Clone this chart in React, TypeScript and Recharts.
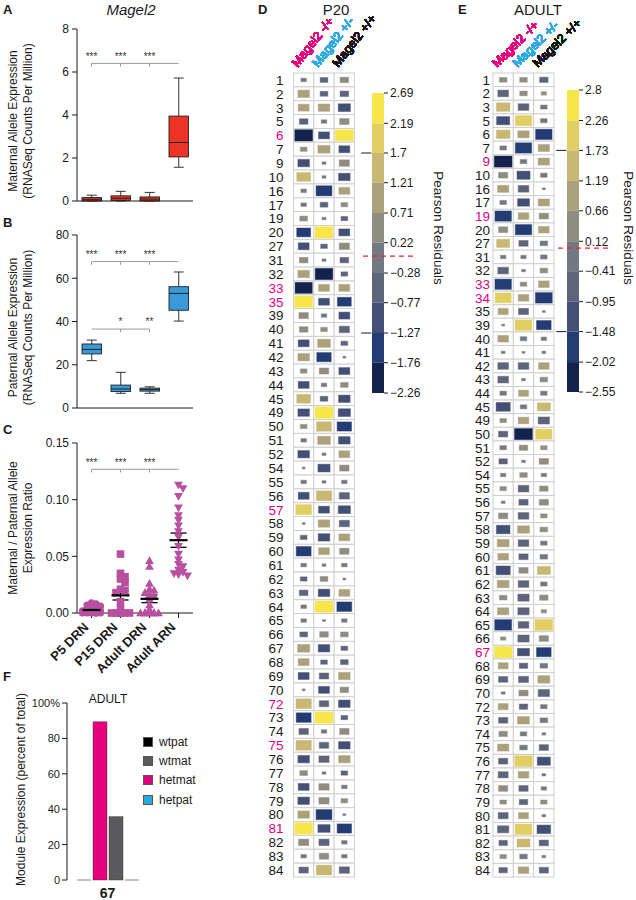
import {
  BarChart,
  Bar,
  ScatterChart,
  Scatter,
  ComposedChart,
  XAxis,
  YAxis,
  ReferenceLine,
  ReferenceDot,
  ReferenceArea,
  ErrorBar,
  Legend,
  Label,
} from "recharts";

const FONT = '"Liberation Sans", Arial, Helvetica, sans-serif';
const INK = "#1a1a1a";
const BRACKET = "#9b9b9b";
const POINT = "#b84f9f";

const groups = ["P5 DRN", "P15 DRN", "Adult DRN", "Adult ARN"];

// A - maternal allele expression, box stats per group
const matMin = [0, 0, 0, 1.57];
const matQ1 = [0, 0.03, 0, 2.05];
const matMedian = [0.08, 0.13, 0.09, 2.72];
const matQ3 = [0.16, 0.24, 0.19, 3.95];
const matMax = [0.27, 0.45, 0.4, 5.72];

// B - paternal allele expression
const patMin = [21.9, 6.8, 6.8, 40.2];
const patQ1 = [25, 7.6, 7.8, 45.2];
const patMedian = [27.1, 8.8, 8.5, 53];
const patQ3 = [29.6, 10.6, 9.2, 56.1];
const patMax = [31.4, 16.5, 9.8, 62.9];

// C - maternal / paternal ratio per animal
const ratioP5 = [0.009, 0.008, 0.007, 0.006, 0.005, 0.004, 0.003, 0.002, 0.002, 0.001, 0.001, 0, 0, 0, 0, 0, 0, 0];
const ratioP15 = [0.052, 0.035, 0.032, 0.03, 0.027, 0.021, 0.02, 0.018, 0.01, 0.004, 0, 0, 0, 0, 0, 0];
const ratioAdultDRN = [0.046, 0.041, 0.026, 0.021, 0.02, 0.018, 0.016, 0.015, 0.012, 0.007, 0.003, 0, 0, 0, 0, 0, 0, 0];
const ratioAdultARN = [0.113, 0.11, 0.103, 0.093, 0.086, 0.082, 0.077, 0.072, 0.067, 0.059, 0.052, 0.047, 0.043, 0.041, 0.038, 0.036, 0.035, 0.034, 0.033];

// F - module 67 expression
const moduleName = "67";
const moduleSeries = ["hetpat", "hetmat", "wtmat", "wtpat"];
const moduleValues = [0, 89.4, 35.8, 0];
const moduleColors = ["#27aae1", "#e5007e", "#5a5a5c", "#000000"];
const legendOrder = ["wtpat", "wtmat", "hetmat", "hetpat"];

// D / E - Pearson residual mosaics
const genotypes = ["Magel2 -/+", "Magel2 +/-", "Magel2 +/+"];
const genotypeColors = ["#e6007e", "#29abe2", "#111111"];
const residualColors = ["#f7e64b", "#e2cf63", "#c8b874", "#aba27d", "#8f8c80", "#747880", "#5e647a", "#434f74", "#243c74", "#14224e"];

const p20Breaks = [2.69, 2.19, 1.7, 1.21, 0.71, 0.22, -0.28, -0.77, -1.27, -1.76, -2.26];
const p20Modules = ["1", "2", "3", "5", "6", "7", "9", "10", "16", "17", "19", "20", "27", "31", "32", "33", "35", "39", "40", "41", "42", "43", "44", "45", "49", "50", "51", "52", "54", "55", "56", "57", "58", "59", "60", "61", "62", "63", "64", "65", "66", "67", "68", "69", "70", "72", "73", "74", "75", "76", "77", "78", "79", "80", "81", "82", "83", "84"];
const p20Highlight = ["6", "33", "35", "57", "72", "75", "81"];
const p20MatKO = [
  -0.2, 0.9, 0.8, -0.5, -2.26, 0.3, -0.9, 1.3, 0.2, -0.2,
  0.4, -1.3, -0.8, 0.5, 0.9, -2.0, 2.4, 0.6, 0.5, -0.8,
  0.9, 0.3, -0.8, 1.3, -0.9, 0.3, 0.2, -0.9, -0.05, -0.2,
  -0.8, 1.7, -0.05, -0.3, -1.5, -0.2, -0.3, -0.5, -0.2, -0.2,
  -0.4, 1.0, 0.8, -0.8, -0.05, 1.6, -1.5, -0.6, 1.6, -0.9,
  0.4, -0.8, -0.9, 0.9, 2.5, 0.7, -0.2, -0.6,
];
const p20PatKO = [
  -0.4, -0.4, 0.9, -0.2, -0.8, 1.0, -0.1, -0.1, -1.7, -0.4,
  -0.1, 2.4, -0.3, -0.1, -2.1, 0.8, -0.8, -0.2, 0.3, 1.1,
  -1.4, 0.6, -0.2, -0.4, 2.3, 1.5, 1.1, -0.1, -1.0, -0.1,
  1.6, -0.8, 0.9, -0.9, 0.8, -0.1, 0.4, -0.9, 2.5, -0.05,
  0.5, -0.9, -0.3, -0.6, -0.8, -0.6, 2.5, -0.2, -0.6, -0.7,
  -0.1, 0.7, 0.7, -1.7, -1.0, -0.7, 0.6, 1.6,
];
const p20WT = [
  0.5, -0.5, -1.0, 0.6, 2.69, -0.8, 0.7, -0.9, 0.8, 0.3,
  -0.3, -0.8, 0.7, -0.5, -0.3, 0.8, -1.3, -0.8, -0.7, -0.3,
  -0.05, -0.8, 0.4, -0.9, -1.0, -1.4, -0.9, 0.8, 0.6, 0.2,
  -0.7, -1.0, -0.7, 0.8, 0.6, 0.2, -0.05, 0.8, -1.5, 0.2,
  0.4, -0.3, -0.4, 0.9, 0.5, -0.9, -0.3, 0.6, -0.9, 0.9,
  -0.3, 0.2, 0.3, -0.05, -1.4, -0.2, -0.2, -0.7,
];

const adultBreaks = [2.8, 2.26, 1.73, 1.19, 0.66, 0.12, -0.41, -0.95, -1.48, -2.02, -2.55];
const adultModules = ["1", "2", "3", "5", "6", "7", "9", "10", "16", "17", "19", "20", "27", "31", "32", "33", "34", "35", "39", "40", "41", "42", "43", "44", "45", "49", "50", "51", "52", "54", "55", "56", "57", "58", "59", "60", "61", "62", "63", "64", "65", "66", "67", "68", "69", "70", "72", "73", "74", "75", "76", "77", "78", "79", "80", "81", "82", "83", "84"];
const adultHighlight = ["9", "19", "33", "34", "67"];
const adultMatKO = [
  0.4, -0.8, 1.3, -1.2, 1.3, -0.3, -2.3, 0.6, 0.9, -0.3,
  -1.9, 0.6, 1.2, -0.2, -0.8, -1.9, 1.8, 0.7, -0.05, 0.8,
  -0.1, -0.8, -0.8, -0.3, -1.4, 0.3, -0.6, -0.3, -0.5, -0.2,
  0.3, -0.1, 0.6, -1.3, 1.0, 0.8, -1.4, 1.0, 0.4, 0.9,
  -2.0, 0.2, 2.6, 0.7, -0.6, -0.1, 0.7, -0.6, 0.5, 0.9,
  -0.6, -0.7, 0.6, 0.3, -0.7, -0.9, -0.5, 0.3, -0.5,
];
const adultPatKO = [
  0.4, 0.4, -0.8, 1.9, 0.9, -1.9, -0.3, -1.2, -0.8, -1.0,
  0.8, -1.9, -0.6, -0.2, -0.1, 0.3, 0.8, -0.7, 2.0, -0.3,
  -0.05, -0.8, -0.1, 0.7, -0.3, 0.8, -2.55, 0.5, -0.1, 0.4,
  -0.8, -0.6, -0.8, 1.0, -0.8, -0.6, 0.6, -0.8, -0.9, -0.9,
  -0.8, -0.9, -1.0, -0.5, -0.7, 0.6, -0.5, 1.0, -0.3, -0.4,
  2.2, 0.8, -0.6, -0.5, 0.7, 2.0, 1.2, -0.4, 0.8,
];
const adultWT = [
  -0.5, 0.2, -0.3, -0.3, -1.9, 0.9, 0.9, -0.3, -0.05, 0.9,
  0.6, 0.8, -0.4, -0.3, 0.4, 0.8, -2.0, -0.05, -1.5, -0.2,
  -0.1, 0.8, 0.4, -0.3, 1.2, -0.9, 1.9, 0.3, 0.6, -0.2,
  0.5, 0.6, 0.3, 0.4, -0.3, -0.4, 1.2, -0.3, 0.5, 0.2,
  2.2, 0.6, -1.5, -0.4, 1.0, -0.9, -0.3, -0.4, -0.1, -0.6,
  -1.2, -0.1, -0.2, 0.3, 0.1, -1.3, -0.6, 0.1, -0.6,
];

// ---------- helpers ----------

const fmtResidual = (v: number) => (v < 0 ? "\u2212" + Math.abs(v) : String(v));

function bandColor(v: number, breaks: number[]) {
  for (let i = 0; i < residualColors.length; i++) {
    if (v >= breaks[i + 1]) return residualColors[i];
  }
  return residualColors[residualColors.length - 1];
}

function boxRows(min: number[], q1: number[], med: number[], q3: number[], max: number[]) {
  return groups.map((g, i) => ({ g, min: min[i], q1: q1[i], med: med[i], q3: q3[i], max: max[i] }));
}

// simple beeswarm: horizontal pixel offsets so the markers don't pile up
function swarm(values: number[], pxPerUnit: number, step: number, sep: number) {
  const order = values.map((_, i) => i).sort((a, b) => values[b] - values[a]);
  const placed: { x: number; y: number }[] = [];
  const dx = values.map(() => 0);
  const slots = [0, 1, -1, 2, -2];
  for (const i of order) {
    const y = values[i] * pxPerUnit;
    let best = 0;
    let bestHits = Infinity;
    for (const s of slots) {
      const x = s * step;
      const hits = placed.filter((p) => Math.abs(p.x - x) < step * 0.9 && Math.abs(p.y - y) < sep).length;
      if (hits < bestHits) {
        best = x;
        bestHits = hits;
      }
      if (hits === 0) break;
    }
    dx[i] = best;
    placed.push({ x: best, y });
  }
  return dx;
}

const axisTitle = (lines: string[], xs: number[], dy: number) => (props: any) => {
  const vb = props.viewBox;
  const cy = vb.y + vb.height / 2 + dy;
  return (
    <g>
      {lines.map((t, i) => (
        <text
          key={i}
          x={xs[i]}
          y={cy}
          transform={`rotate(-90 ${xs[i]} ${cy})`}
          textAnchor="middle"
          dominantBaseline="central"
          fontSize={12}
          fill={INK}
        >
          {t}
        </text>
      ))}
    </g>
  );
};

function bracket(id: string, y: number, drop: number, from: any, to: any, tickAt: any[], stars: [any, string][], starY: number) {
  const els: any[] = [
    <ReferenceLine key={id + "h"} segment={[{ x: from, y }, { x: to, y }]} stroke={BRACKET} strokeWidth={1} />,
  ];
  tickAt.forEach((x, i) =>
    els.push(<ReferenceLine key={id + "t" + i} segment={[{ x, y }, { x, y: y - drop }]} stroke={BRACKET} strokeWidth={1} />)
  );
  stars.forEach(([x, t], i) =>
    els.push(
      <ReferenceDot
        key={id + "s" + i}
        x={x}
        y={starY}
        r={0}
        fill="none"
        stroke="none"
        label={{ value: t, position: "center", fontSize: 10, fill: "#333" }}
      />
    )
  );
  return els;
}

const BoxShape = (props: any) => {
  const { x, y, width, height, payload, fill } = props;
  const top = Math.min(y, y + height);
  const bottom = Math.max(y, y + height);
  const { min, q1, med, q3, max } = payload;
  const py = (v: number) => bottom - ((bottom - top) * (v - min)) / (max - min || 1);
  const cx = x + width / 2;
  const cap = 5;
  return (
    <g>
      <line x1={cx} x2={cx} y1={py(max)} y2={py(q3)} stroke="#333" />
      <line x1={cx} x2={cx} y1={py(q1)} y2={py(min)} stroke="#333" />
      <line x1={cx - cap} x2={cx + cap} y1={py(max)} y2={py(max)} stroke="#333" />
      <line x1={cx - cap} x2={cx + cap} y1={py(min)} y2={py(min)} stroke="#333" />
      <rect x={x} y={py(q3)} width={width} height={Math.max(py(q1) - py(q3), 0.8)} fill={fill} stroke="#222" strokeWidth={0.9} />
      <line x1={x} x2={x + width} y1={py(med)} y2={py(med)} stroke="#222" strokeWidth={1} />
    </g>
  );
};

// ---------- panels A & B ----------

function BoxPanel(props: any) {
  const { top, height, marginTop, domain, ticks, rows, fill, title, children } = props;
  return (
    <div style={{ position: "absolute", left: 0, top }}>
      <BarChart width={200} height={height} data={rows} margin={{ top: marginTop, right: 7, left: 0, bottom: 4 }}>
        <XAxis dataKey="g" height={10} tick={false} tickSize={4} axisLine={{ stroke: INK }} tickLine={{ stroke: INK }} />
        <YAxis
          type="number"
          domain={domain}
          ticks={ticks}
          interval={0}
          width={77}
          tickSize={5}
          tickMargin={3}
          tick={{ fontSize: 12, fill: INK }}
          axisLine={{ stroke: INK }}
          tickLine={{ stroke: INK }}
        >
          <Label content={axisTitle(title, [13, 28], 6)} />
        </YAxis>
        {children}
        <Bar dataKey={(d: any) => [d.min, d.max]} fill={fill} barSize={19.5} shape={BoxShape} isAnimationActive={false} />
      </BarChart>
    </div>
  );
}

// ---------- panel C ----------

const makeMarker = (kind: string) => (props: any) => {
  const { cx, cy, payload } = props;
  const x = cx + (payload.dx || 0);
  if (kind === "circle") return <circle cx={x} cy={cy} r={3.6} fill={POINT} />;
  if (kind === "square") return <rect x={x - 3.8} y={cy - 3.8} width={7.6} height={7.6} fill={POINT} />;
  if (kind === "up") return <path d={`M${x},${cy - 4.6}L${x + 4.4},${cy + 3.2}L${x - 4.4},${cy + 3.2}Z`} fill={POINT} />;
  return <path d={`M${x},${cy + 4.6}L${x + 4.4},${cy - 3.2}L${x - 4.4},${cy - 3.2}Z`} fill={POINT} />;
};
const markerKinds = ["circle", "square", "up", "down"];
const markers = markerKinds.map(makeMarker);

const MeanBar = (props: any) => (
  <line x1={props.cx - 9} x2={props.cx + 9} y1={props.cy} y2={props.cy} stroke="#000" strokeWidth={2.2} />
);

const GroupTick = (props: any) => {
  const { x, y, payload } = props;
  const tx = x - 2;
  const ty = y + 8;
  return (
    <text x={tx} y={ty} transform={`rotate(-45 ${tx} ${ty})`} textAnchor="end" fontSize={13} fontWeight="bold" fill={INK}>
      {groups[payload.value - 1]}
    </text>
  );
};

function RatioPanel() {
  const sets = [ratioP5, ratioP15, ratioAdultDRN, ratioAdultARN];
  const pxPerUnit = 170 / 0.15;
  const pointSets = sets.map((vals, gi) => {
    const dx = swarm(vals, pxPerUnit, 4.5, 4);
    return vals.map((v, i) => ({ x: gi + 1, y: v, dx: dx[i] }));
  });
  const means = sets.map((vals, gi) => {
    const n = vals.length;
    const m = vals.reduce((a, b) => a + b, 0) / n;
    const sd = Math.sqrt(vals.reduce((a, b) => a + (b - m) * (b - m), 0) / (n - 1));
    return { x: gi + 1, y: m, sem: sd / Math.sqrt(n) };
  });
  return (
    <div style={{ position: "absolute", left: 0, top: 425 }}>
      <ScatterChart width={200} height={250} margin={{ top: 18, right: 7, left: 0, bottom: 12 }}>
        <XAxis
          type="number"
          dataKey="x"
          domain={[0.5, 4.5]}
          ticks={[1, 2, 3, 4]}
          interval={0}
          height={50}
          tickSize={5}
          tick={<GroupTick />}
          axisLine={{ stroke: INK }}
          tickLine={{ stroke: INK }}
        />
        <YAxis
          type="number"
          dataKey="y"
          domain={[0, 0.15]}
          ticks={[0, 0.05, 0.1, 0.15]}
          interval={0}
          tickFormatter={(v: number) => v.toFixed(2)}
          width={77}
          tickSize={5}
          tickMargin={3}
          tick={{ fontSize: 12, fill: INK }}
          axisLine={{ stroke: INK }}
          tickLine={{ stroke: INK }}
        >
          <Label content={axisTitle(["Maternal / Paternal Allele", "Expression Ratio"], [13, 28], 0)} />
        </YAxis>
        {bracket("c", 0.1268, 0.0028, 1, 4, [1, 2, 3], [[1, "***"], [2, "***"], [3, "***"]], 0.1325)}
        {pointSets.map((pts, i) => (
          <Scatter key={groups[i]} data={pts} shape={markers[i]} isAnimationActive={false} />
        ))}
        <Scatter data={means} shape={MeanBar} isAnimationActive={false}>
          <ErrorBar dataKey="sem" direction="y" width={8} stroke="#000" strokeWidth={1.3} />
        </Scatter>
      </ScatterChart>
    </div>
  );
}

// ---------- panel F ----------

const ModuleBar = (props: any) => {
  const { x, y, width, height, fill } = props;
  if (!height || Math.abs(height) < 0.5) {
    return <line x1={x} x2={x + width} y1={y} y2={y} stroke="#a3a3a3" strokeWidth={1.3} />;
  }
  return <rect x={x} y={y} width={width} height={height} fill={fill} stroke="#333" strokeOpacity={0.6} strokeWidth={0.7} />;
};

const ModuleLegend = (props: any) => {
  const items = [...(props.payload || [])].sort(
    (a: any, b: any) => legendOrder.indexOf(a.value) - legendOrder.indexOf(b.value)
  );
  return (
    <div>
      {items.map((it: any) => (
        <div key={it.value} style={{ display: "flex", alignItems: "center", height: 19.3 }}>
          <span
            style={{
              display: "inline-block",
              width: 10,
              height: 10,
              background: it.color,
              boxSizing: "border-box",
              border: "0.7px solid #555",
              marginRight: 6,
            }}
          />
          <span style={{ fontSize: 12, color: INK }}>{it.value}</span>
        </div>
      ))}
    </div>
  );
};

function ModulePanel() {
  const row: any = { module: moduleName };
  moduleSeries.forEach((s, i) => (row[s] = moduleValues[i]));
  return (
    <div style={{ position: "absolute", left: 0, top: 660 }}>
      <BarChart width={230} height={240} data={[row]} margin={{ top: 43, right: 82, left: 0, bottom: 5 }} barCategoryGap={10} barGap={2}>
        <XAxis dataKey="module" axisLine={false} tickLine={false} height={15} tick={{ fontSize: 14, fontWeight: "bold", fill: INK }} />
        <YAxis
          type="number"
          domain={[0, 100]}
          ticks={[0, 20, 40, 60, 80, 100]}
          interval={0}
          tickFormatter={(v: number) => (v === 100 ? "100%" : String(v))}
          width={67}
          tickSize={5}
          tickMargin={2}
          tick={{ fontSize: 11, fill: INK }}
          axisLine={{ stroke: INK }}
          tickLine={{ stroke: INK }}
        >
          <Label content={axisTitle(["Module Expression (percent of total)"], [21], -2)} />
        </YAxis>
        {moduleSeries.map((s, i) => (
          <Bar key={s} dataKey={s} name={s} fill={moduleColors[i]} shape={ModuleBar} isAnimationActive={false} />
        ))}
        <Legend
          layout="vertical"
          align="center"
          verticalAlign="middle"
          content={ModuleLegend}
          wrapperStyle={{ left: 143, top: 72, width: 80 }}
        />
      </BarChart>
    </div>
  );
}

// ---------- panels D & E ----------

const MOSAIC_PLOT_W = 61;
const MOSAIC_PLOT_H = 804;
const MOSAIC_RIGHT = 50; // room on the right for the slanted headers

function Mosaic(props: any) {
  const { left, axisW, labelGap, rows, pink, cols, vmax, breaks, angle } = props;
  const width = axisW + MOSAIC_PLOT_W + MOSAIC_RIGHT;
  const cw = MOSAIC_PLOT_W / 3;
  const ch = MOSAIC_PLOT_H / rows.length;
  const data = rows.flatMap((r: string, i: number) => genotypes.map((g, j) => ({ g, r, v: cols[j][i] })));

  const Cell = (p: any) => {
    const { cx, cy, payload } = p;
    const v = payload.v;
    const s = Math.max(0.16, Math.min(1, Math.sqrt(Math.abs(v) / (vmax * 0.8))));
    const w = s * (cw - 2.5);
    const h = s * (ch - 2.5);
    const c = bandColor(v, breaks);
    return (
      <g>
        <rect x={cx - cw / 2} y={cy - ch / 2} width={cw} height={ch} fill="#fff" stroke="#cfcfcf" strokeWidth={1} />
        <rect x={cx - w / 2} y={cy - h / 2} width={w} height={h} fill={c} stroke={c} strokeOpacity={0.45} strokeWidth={1} />
      </g>
    );
  };

  const RowTick = (p: any) => (
    <text
      x={p.x}
      y={p.y}
      dy="0.36em"
      textAnchor="end"
      fontSize={13.5}
      fill={pink.includes(p.payload.value) ? "#e6007e" : INK}
    >
      {p.payload.value}
    </text>
  );

  const HeaderTick = (p: any) => {
    const i = genotypes.indexOf(p.payload.value);
    const tx = p.x - 6;
    const ty = p.y + 1;
    return (
      <g transform={`translate(${tx} ${ty}) rotate(${-angle})`}>
        <text x={0} y={0} textAnchor="start" style={{ fontSize: 12.5, fontFamily: FONT }} fill={genotypeColors[i]}>
          {p.payload.value}
        </text>
      </g>
    );
  };

  return (
    <div style={{ position: "absolute", left, top: 0 }}>
      <ScatterChart width={width} height={890} margin={{ top: 0, right: MOSAIC_RIGHT, left: 0, bottom: 13 }}>
        <XAxis
          type="category"
          dataKey="g"
          scale="band"
          orientation="top"
          allowDuplicatedCategory={false}
          height={73}
          axisLine={false}
          tickLine={false}
          tickSize={0}
          tickMargin={6}
          interval={0}
          tick={<HeaderTick />}
        />
        <YAxis
          type="category"
          dataKey="r"
          scale="band"
          reversed
          allowDuplicatedCategory={false}
          width={axisW}
          axisLine={false}
          tickLine={false}
          tickSize={0}
          tickMargin={labelGap}
          interval={0}
          tick={<RowTick />}
        />
        <Scatter data={data} shape={Cell} isAnimationActive={false} />
      </ScatterChart>
    </div>
  );
}

function ColorBar(props: any) {
  const { left, width, mTop, mBottom, mRight, axisW, breaks, titleDx, titleDy, redTo } = props;
  const sideTitle = (p: any) => {
    const vb = p.viewBox;
    const x = vb.x + titleDx;
    const y = vb.y + vb.height / 2 + titleDy;
    return (
      <text x={x} y={y} transform={`rotate(90 ${x} ${y})`} textAnchor="middle" dominantBaseline="central" fontSize={13.5} fill={INK}>
        Pearson Residuals
      </text>
    );
  };
  const lo = breaks[breaks.length - 1];
  const hi = breaks[0];
  return (
    <div style={{ position: "absolute", left, top: 80 }}>
      <ComposedChart width={width} height={330} data={[{ x: 0 }, { x: 1 }]} margin={{ top: mTop, right: mRight, left: 17, bottom: mBottom }}>
        <XAxis type="number" dataKey="x" domain={[0, 1]} hide allowDataOverflow />
        <YAxis
          type="number"
          orientation="right"
          domain={[lo, hi]}
          ticks={breaks}
          interval={0}
          allowDataOverflow
          width={axisW}
          axisLine={false}
          tickSize={4}
          tickMargin={2}
          tickLine={{ stroke: INK }}
          tick={{ fontSize: 12, fill: INK }}
          tickFormatter={fmtResidual}
        >
          <Label content={sideTitle} />
        </YAxis>
        {residualColors.map((c, i) => (
          <ReferenceArea key={c} x1={0} x2={1} y1={breaks[i + 1]} y2={breaks[i]} fill={c} fillOpacity={1} stroke="none" />
        ))}
        <ReferenceLine segment={[{ x: -0.75, y: 0 }, { x: redTo, y: 0 }]} stroke="#e8202a" strokeWidth={1.3} strokeDasharray="5 4" ifOverflow="visible" />
        {[breaks[2], breaks[8]].map((b) => (
          <ReferenceLine key={b} segment={[{ x: -0.9, y: b }, { x: -0.05, y: b }]} stroke={INK} strokeWidth={1} ifOverflow="visible" />
        ))}
      </ComposedChart>
    </div>
  );
}

const panelLetter = (t: string, left: number, top: number) => (
  <div style={{ position: "absolute", left, top, fontSize: 13, fontWeight: "bold", lineHeight: "14px" }}>{t}</div>
);

export default function App() {
  return (
    <div
      style={{
        position: "absolute",
        left: 0,
        top: 0,
        width: 636,
        height: 900,
        overflow: "hidden",
        background: "#fff",
        fontFamily: FONT,
        color: INK,
      }}
    >
      {panelLetter("A", 3, 3)}
      {panelLetter("B", 3, 216)}
      {panelLetter("C", 3, 423)}
      {panelLetter("F", 3, 670)}
      {panelLetter("D", 258, 3)}
      {panelLetter("E", 458, 3)}

      <div style={{ position: "absolute", left: 91, width: 80, top: 1, textAlign: "center", fontSize: 15, fontStyle: "italic" }}>Magel2</div>
      <div style={{ position: "absolute", left: 306, width: 60, top: 1, textAlign: "center", fontSize: 15 }}>P20</div>
      <div style={{ position: "absolute", left: 503, width: 70, top: 1, textAlign: "center", fontSize: 15 }}>ADULT</div>
      <div style={{ position: "absolute", left: 78, width: 60, top: 692, textAlign: "center", fontSize: 12 }}>ADULT</div>

      <BoxPanel
        top={0}
        height={215}
        marginTop={29}
        domain={[0, 8]}
        ticks={[0, 2, 4, 6, 8]}
        rows={boxRows(matMin, matQ1, matMedian, matQ3, matMax)}
        fill="#ec3426"
        title={["Maternal Allele Expression", "(RNASeq Counts Per Million)"]}
      >
        {bracket("a", 6.4, 0.15, groups[0], groups[3], groups.slice(0, 3), [[groups[0], "***"], [groups[1], "***"], [groups[2], "***"]], 6.72)}
      </BoxPanel>

      <BoxPanel
        top={210}
        height={212}
        marginTop={25}
        domain={[0, 80]}
        ticks={[0, 20, 40, 60, 80]}
        rows={boxRows(patMin, patQ1, patMedian, patQ3, patMax)}
        fill="#3a9ad9"
        title={["Paternal Allele Expression", "(RNASeq Counts Per Million)"]}
      >
        {bracket("b1", 67.7, 1.5, groups[0], groups[3], groups.slice(0, 3), [[groups[0], "***"], [groups[1], "***"], [groups[2], "***"]], 71)}
        {bracket("b2", 36.5, 1.5, groups[0], groups[2], groups.slice(1, 3), [[groups[1], "*"], [groups[2], "**"]], 39.8)}
      </BoxPanel>

      <RatioPanel />
      <ModulePanel />

      <Mosaic
        left={250}
        axisW={43.5}
        labelGap={10}
        rows={p20Modules}
        pink={p20Highlight}
        cols={[p20MatKO, p20PatKO, p20WT]}
        vmax={2.69}
        breaks={p20Breaks}
        angle={52}
      />
      <ColorBar left={355} width={100} mTop={13} mBottom={17} mRight={26} axisW={45} breaks={p20Breaks} titleDx={54} titleDy={-15} redTo={3.6} />

      <Mosaic
        left={445}
        axisW={48}
        labelGap={3}
        rows={adultModules}
        pink={adultHighlight}
        cols={[adultMatKO, adultPatKO, adultWT]}
        vmax={2.8}
        breaks={adultBreaks}
        angle={45}
      />
      <ColorBar left={550} width={86} mTop={10} mBottom={18} mRight={17} axisW={40} breaks={adultBreaks} titleDx={49} titleDy={-13} redTo={3.5} />
    </div>
  );
}
